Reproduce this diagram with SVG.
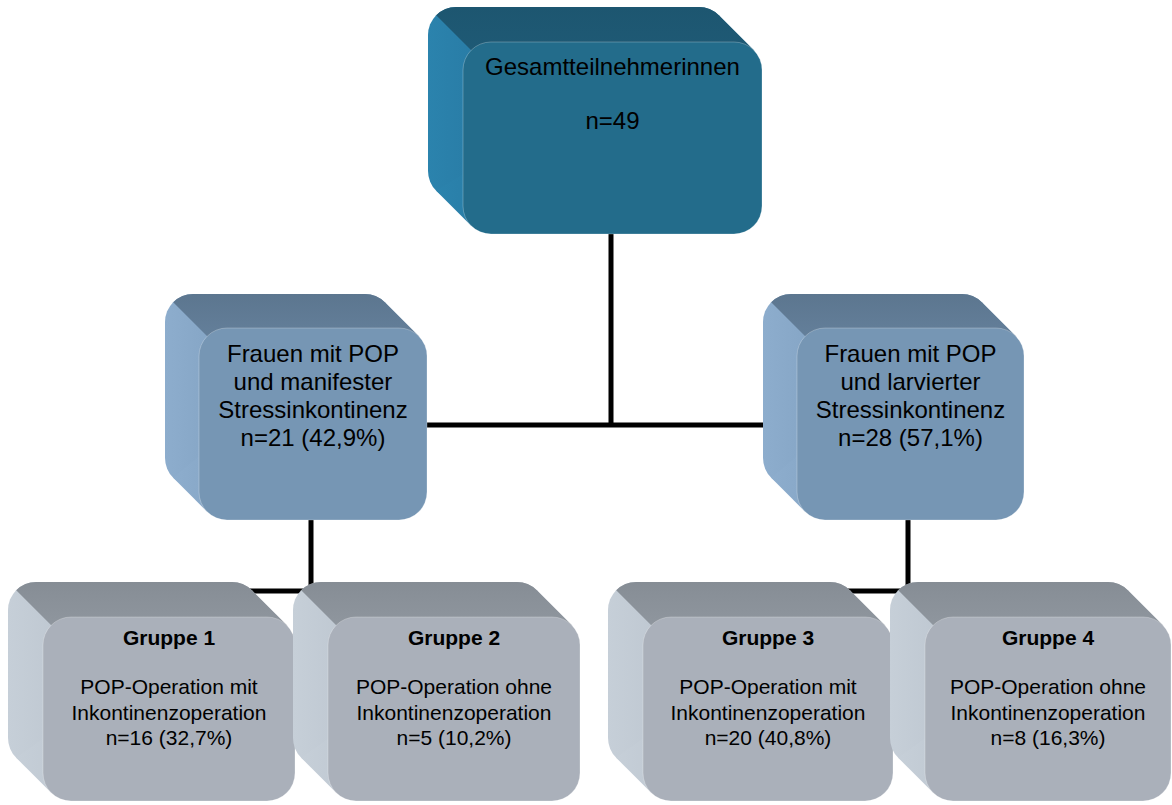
<svg xmlns="http://www.w3.org/2000/svg" width="1172" height="805" viewBox="0 0 1172 805">
<defs>
<linearGradient id="tL" x1="0" y1="0" x2="1" y2="0"><stop offset="0" stop-color="#2b83ad"/><stop offset="0.3" stop-color="#2776a0"/><stop offset="1" stop-color="#236c8b"/></linearGradient>
<linearGradient id="tT" x1="0" y1="0" x2="0" y2="1"><stop offset="0" stop-color="#1d5670"/><stop offset="1" stop-color="#1f5b77"/></linearGradient>
<linearGradient id="mL" x1="0" y1="0" x2="1" y2="0"><stop offset="0" stop-color="#8dadcd"/><stop offset="0.3" stop-color="#82a2c2"/><stop offset="1" stop-color="#7696b4"/></linearGradient>
<linearGradient id="mT" x1="0" y1="0" x2="0" y2="1"><stop offset="0" stop-color="#5c768f"/><stop offset="1" stop-color="#67839f"/></linearGradient>
<linearGradient id="bL" x1="0" y1="0" x2="1" y2="0"><stop offset="0" stop-color="#c6cfd8"/><stop offset="0.3" stop-color="#bbc4ce"/><stop offset="1" stop-color="#aab0ba"/></linearGradient>
<linearGradient id="bT" x1="0" y1="0" x2="0" y2="1"><stop offset="0" stop-color="#868d95"/><stop offset="1" stop-color="#939aa2"/></linearGradient>
</defs>
<style>
.line{stroke:#000;stroke-width:5;fill:none}
.fr{stroke:#ffffff;stroke-opacity:0.25;stroke-width:1}
.t .side{fill:url(#tL)} .t .top{fill:url(#tT)} .t .fr{fill:#236c8b}
.m .side{fill:url(#mL)} .m .top{fill:url(#mT)} .m .fr{fill:#7696b4}
.b .side{fill:url(#bL)} .b .top{fill:url(#bT)} .b .fr{fill:#aab0ba}
text{font-family:"Liberation Sans",Arial,sans-serif;fill:#000;text-anchor:middle}
.L{font-size:24px}
.S{font-size:21px}
.B{font-size:21px;font-weight:bold}
</style>
<g id="connectors">
<path class="line" d="M611 230V425M420 425H805"/>
<path class="line" d="M311 515V591M200 591H400"/>
<path class="line" d="M908 515V591M800 591H1000"/>
</g>
<g id="node-gesamt" class="t">
<rect class="side" x="428" y="7" width="299" height="192" rx="28"/>
<polygon class="side" points="718.8,15.2 753.8,50.2 471.2,225.8 436.2,190.8"/>
<path class="top" d="M436.2 15.2A28 28 0 0 1 456 7L699 7A28 28 0 0 1 718.8 15.2L753.8 50.2L734 70L491 70L471.2 50.2Z"/>
<rect class="fr" x="463" y="42" width="299" height="192" rx="28"/>
<text class="L" x="612.5" y="75">Gesamtteilnehmerinnen</text>
<text class="L" x="612.5" y="129">n=49</text>
</g>
<g id="node-manifest" class="m">
<rect class="side" x="165" y="294" width="228" height="192" rx="28"/>
<polygon class="side" points="384.8,302.2 418.8,336.2 207.2,511.8 173.2,477.8"/>
<path class="top" d="M173.2 302.2A28 28 0 0 1 193 294L365 294A28 28 0 0 1 384.8 302.2L418.8 336.2L399 356L227 356L207.2 336.2Z"/>
<rect class="fr" x="199" y="328" width="228" height="192" rx="28"/>
<text class="L" x="313" y="362">Frauen mit POP</text>
<text class="L" x="313" y="390">und manifester</text>
<text class="L" x="313" y="418">Stressinkontinenz</text>
<text class="L" x="313" y="446">n=21 (42,9%)</text>
</g>
<g id="node-larviert" class="m">
<rect class="side" x="763" y="294" width="227" height="192" rx="28"/>
<polygon class="side" points="981.8,302.2 1015.8,336.2 805.2,511.8 771.2,477.8"/>
<path class="top" d="M771.2 302.2A28 28 0 0 1 791 294L962 294A28 28 0 0 1 981.8 302.2L1015.8 336.2L996 356L825 356L805.2 336.2Z"/>
<rect class="fr" x="797" y="328" width="227" height="192" rx="28"/>
<text class="L" x="910.5" y="362">Frauen mit POP</text>
<text class="L" x="910.5" y="390">und larvierter</text>
<text class="L" x="910.5" y="418">Stressinkontinenz</text>
<text class="L" x="910.5" y="446">n=28 (57,1%)</text>
</g>
<g id="node-gruppe1" class="b">
<rect class="side" x="8" y="582" width="252" height="184" rx="28"/>
<polygon class="side" points="251.8,590.2 286.8,625.2 51.2,792.8 16.2,757.8"/>
<path class="top" d="M16.2 590.2A28 28 0 0 1 36 582L232 582A28 28 0 0 1 251.8 590.2L286.8 625.2L267 645L71 645L51.2 625.2Z"/>
<rect class="fr" x="43" y="617" width="252" height="184" rx="28"/>
<text class="B" x="169" y="645">Gruppe 1</text>
<text class="S" x="169" y="694">POP-Operation mit</text>
<text class="S" x="169" y="720">Inkontinenzoperation</text>
<text class="S" x="169" y="745">n=16 (32,7%)</text>
</g>
<g id="node-gruppe2" class="b">
<rect class="side" x="293" y="582" width="252" height="184" rx="28"/>
<polygon class="side" points="536.8,590.2 571.8,625.2 336.2,792.8 301.2,757.8"/>
<path class="top" d="M301.2 590.2A28 28 0 0 1 321 582L517 582A28 28 0 0 1 536.8 590.2L571.8 625.2L552 645L356 645L336.2 625.2Z"/>
<rect class="fr" x="328" y="617" width="252" height="184" rx="28"/>
<text class="B" x="454" y="645">Gruppe 2</text>
<text class="S" x="454" y="694">POP-Operation ohne</text>
<text class="S" x="454" y="720">Inkontinenzoperation</text>
<text class="S" x="454" y="745">n=5 (10,2%)</text>
</g>
<g id="node-gruppe3" class="b">
<rect class="side" x="608" y="582" width="250" height="184" rx="28"/>
<polygon class="side" points="849.8,590.2 884.8,625.2 651.2,792.8 616.2,757.8"/>
<path class="top" d="M616.2 590.2A28 28 0 0 1 636 582L830 582A28 28 0 0 1 849.8 590.2L884.8 625.2L865 645L671 645L651.2 625.2Z"/>
<rect class="fr" x="643" y="617" width="250" height="184" rx="28"/>
<text class="B" x="768" y="645">Gruppe 3</text>
<text class="S" x="768" y="694">POP-Operation mit</text>
<text class="S" x="768" y="720">Inkontinenzoperation</text>
<text class="S" x="768" y="745">n=20 (40,8%)</text>
</g>
<g id="node-gruppe4" class="b">
<rect class="side" x="890" y="582" width="246" height="184" rx="28"/>
<polygon class="side" points="1127.8,590.2 1162.8,625.2 933.2,792.8 898.2,757.8"/>
<path class="top" d="M898.2 590.2A28 28 0 0 1 918 582L1108 582A28 28 0 0 1 1127.8 590.2L1162.8 625.2L1143 645L953 645L933.2 625.2Z"/>
<rect class="fr" x="925" y="617" width="246" height="184" rx="28"/>
<text class="B" x="1048" y="645">Gruppe 4</text>
<text class="S" x="1048" y="694">POP-Operation ohne</text>
<text class="S" x="1048" y="720">Inkontinenzoperation</text>
<text class="S" x="1048" y="745">n=8 (16,3%)</text>
</g>
</svg>
